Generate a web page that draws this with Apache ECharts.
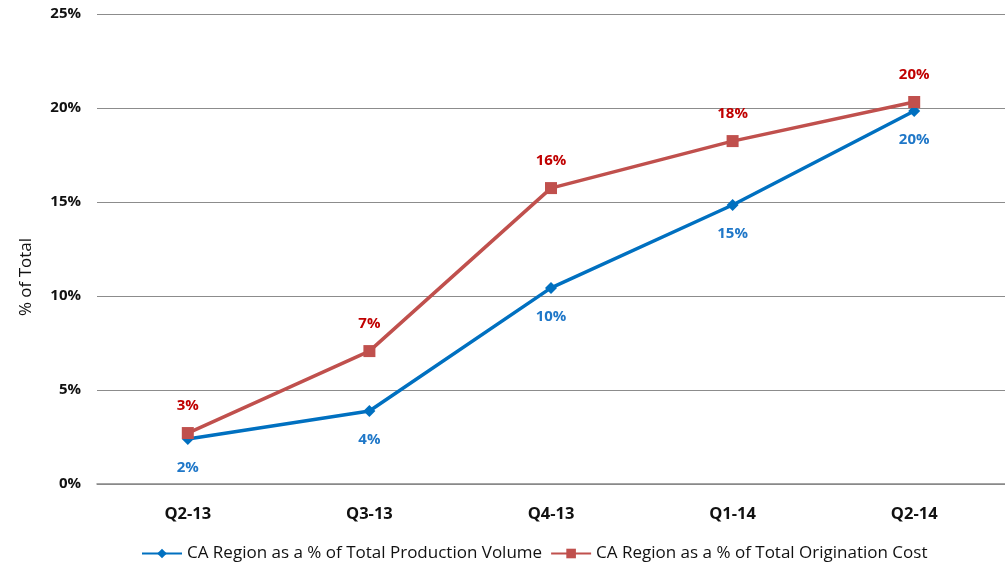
<!DOCTYPE html>
<html><head><meta charset="utf-8">
<script src="https://cdn.jsdelivr.net/npm/echarts@6/dist/echarts.min.js"></script>
<style>html,body{margin:0;padding:0;background:#fff}#c{width:1005px;height:566px}</style>
</head><body><div id="c"></div>
<script>
const categories = ['Q2-13','Q3-13','Q4-13','Q1-14','Q2-14'];
const volumePct = [2.39, 3.88, 10.43, 14.84, 19.84];
const costPct = [2.71, 7.07, 15.74, 18.24, 20.32];
const seriesNames = ['CA Region as a % of Total Production Volume','CA Region as a % of Total Origination Cost'];
const yTicks = [0,5,10,15,20,25];

const font = '"Open Sans", sans-serif';
const chart = echarts.init(document.getElementById('c'));
chart.setOption({
  animation: false,
  grid: {left: 97, right: 0, top: 14, bottom: 82},
  legend: {
    bottom: -1, left: 136, itemWidth: 40, itemHeight: 12, itemGap: 8,
    textStyle: {fontFamily: font, fontSize: 17, color: '#111'},
    data: seriesNames
  },
  xAxis: {
    type: 'category', data: categories, boundaryGap: true,
    axisLine: {lineStyle: {color: '#888', width: 1.5}},
    axisTick: {show: false},
    axisLabel: {margin: 22, fontFamily: font, fontWeight: 'bold', fontSize: 16.5, color: '#111'}
  },
  yAxis: {
    type: 'value', min: yTicks[0], max: yTicks[yTicks.length-1], interval: 5,
    name: '% of Total', nameLocation: 'middle', nameGap: 62, nameRotate: 90,
    nameTextStyle: {fontFamily: font, fontSize: 17, color: '#111', padding: [0, 56, 0, 0]},
    axisLine: {show: false}, axisTick: {show: false},
    axisLabel: {margin: 16, fontFamily: font, fontWeight: 'bold', fontSize: 15, color: '#111', formatter: v => v + '%'},
    splitLine: {lineStyle: {color: '#8c8c8c', width: 1}}
  },
  series: [
    {
      name: seriesNames[0], type: 'line', data: volumePct,
      symbol: 'diamond', symbolSize: 12,
      lineStyle: {color: '#0070C0', width: 3.5},
      itemStyle: {color: '#0070C0'},
      label: {show: true, position: 'bottom', distance: 15, fontFamily: font, fontWeight: 'bold', fontSize: 15, color: '#1F77C8',
        formatter: p => Math.round(p.value) + '%'},
      z: 3
    },
    {
      name: seriesNames[1], type: 'line', data: costPct,
      symbol: 'rect', symbolSize: 12,
      lineStyle: {color: '#C0504D', width: 3.5},
      itemStyle: {color: '#C0504D'},
      label: {show: true, position: 'top', distance: 14, fontFamily: font, fontWeight: 'bold', fontSize: 15, color: '#C00000',
        formatter: p => Math.round(p.value) + '%'},
      z: 4
    }
  ]
});
</script></body></html>
